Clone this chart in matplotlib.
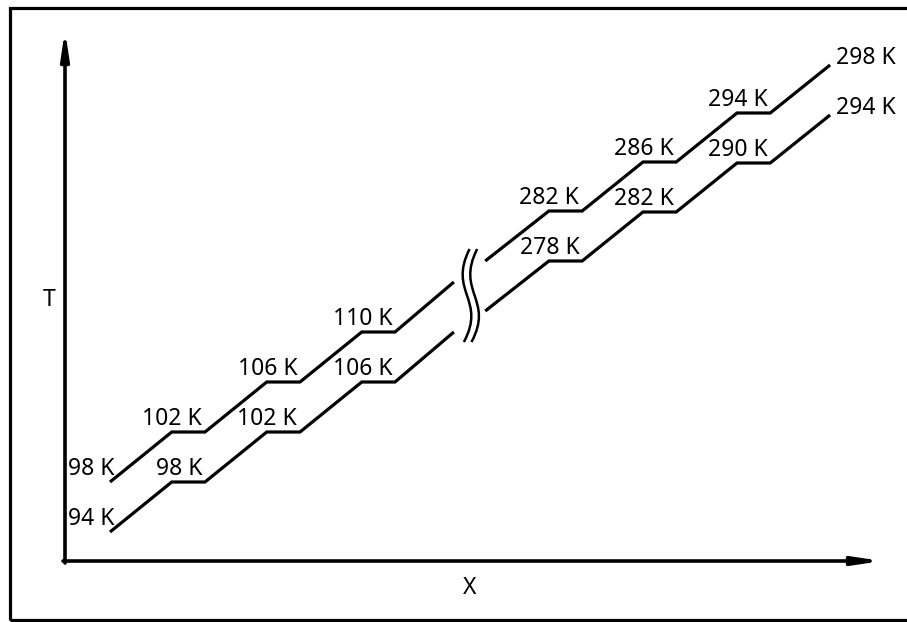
import matplotlib
matplotlib.use("Agg")
import matplotlib.pyplot as plt
from matplotlib.path import Path
from matplotlib.patches import PathPatch, Rectangle

plt.rcParams['font.family'] = ['Noto Sans', 'DejaVu Sans']

# staircase vertices: x in step cycles, y in temperature levels (schematic, no scale)
leftX = [0.0, 0.65, 1.0, 1.65, 2.0, 2.65, 3.0, 3.62]
rightX = [3.95, 4.62, 4.97, 5.61, 5.96, 6.6, 6.95, 7.58]

upperLeftLevel = [0, 1, 1, 2, 2, 3, 3, 4]
upperRightLevel = [4.42, 5.42, 5.42, 6.4, 6.4, 7.38, 7.38, 8.34]
lowerLeftLevel = [-1, 0, 0, 1, 1, 2, 2, 3]
lowerRightLevel = [3.42, 4.42, 4.42, 5.4, 5.4, 6.38, 6.38, 7.34]

upperStart = "98 K"
upperFlats = ["102 K", "106 K", "110 K", "282 K", "286 K", "294 K"]
upperEnd = "298 K"
lowerStart = "94 K"
lowerFlats = ["98 K", "102 K", "106 K", "278 K", "282 K", "290 K"]
lowerEnd = "294 K"

fontSize = 16.5
lineWidth = 2.3

fig = plt.figure(figsize=(9.07, 6.22), dpi=100)
ax = fig.add_axes([0, 0, 1, 1])
ax.set_xlim(-110 / 95, 797 / 95)
ax.set_ylim(-2.8, 9.64)
ax.axis('off')

# outer frame (right edge falls just outside the image)
fig.patches.append(Rectangle((10 / 907, 2 / 622), 905 / 907, 612.5 / 622,
                             transform=fig.transFigure, fill=False,
                             edgecolor='black', linewidth=2.3))

# axes with arrow heads
origin = (65 / 907, 1 - 561 / 622)
arrowProps = dict(arrowstyle='-|>,head_length=0.8,head_width=0.12',
                  mutation_scale=20, lw=2.6, color='black',
                  shrinkA=0, shrinkB=0)
ax.annotate('', xy=(65 / 907, 1 - 30 / 622), xytext=(65 / 907, 1 - 563 / 622),
            xycoords='axes fraction', textcoords='axes fraction', arrowprops=arrowProps)
ax.annotate('', xy=(882 / 907, origin[1]), xytext=(63 / 907, origin[1]),
            xycoords='axes fraction', textcoords='axes fraction', arrowprops=arrowProps)
ax.text(49.5 / 907, 1 - 300 / 622, "T", transform=ax.transAxes,
        ha='center', va='center', fontsize=fontSize)
ax.text(470 / 907, 1 - 588 / 622, "X", transform=ax.transAxes,
        ha='center', va='center', fontsize=fontSize)


def drawStaircase(xLeft, yLeft, xRight, yRight, startLabel, flatLabels, endLabel):
    for xs, ys in ((xLeft, yLeft), (xRight, yRight)):
        ax.plot(xs, ys, color='black', lw=lineWidth,
                solid_capstyle='butt', solid_joinstyle='miter')
    ax.annotate(startLabel, (xLeft[0], yLeft[0]), xytext=(3.6, 5),
                textcoords='offset points', ha='right', va='baseline', fontsize=fontSize)
    flatEnds = [(xLeft[i], yLeft[i]) for i in (2, 4, 6)] + \
               [(xRight[i], yRight[i]) for i in (2, 4, 6)]
    for label, (fx, fy) in zip(flatLabels, flatEnds):
        ax.annotate(label, (fx, fy), xytext=(-2, 5), textcoords='offset points',
                    ha='right', va='baseline', fontsize=fontSize)
    ax.annotate(endLabel, (xRight[-1], yRight[-1]), xytext=(4.3, 1),
                textcoords='offset points', ha='left', va='baseline', fontsize=fontSize)


drawStaircase(leftX, upperLeftLevel, rightX, upperRightLevel, upperStart, upperFlats, upperEnd)
drawStaircase(leftX, lowerLeftLevel, rightX, lowerRightLevel, lowerStart, lowerFlats, lowerEnd)

# break marks between the two temperature ranges
gapX = (leftX[-1] + rightX[0]) / 2
for dx in (-0.04, 0.04):
    cx = gapX + dx
    verts = [(cx + 0.04, 4.66), (cx - 0.19, 3.8), (cx + 0.22, 3.65), (cx - 0.02, 2.8)]
    path = Path(verts, [Path.MOVETO, Path.CURVE4, Path.CURVE4, Path.CURVE4])
    ax.add_patch(PathPatch(path, fill=False, edgecolor='black', lw=1.8))

fig.savefig("out.png", dpi=100, facecolor='white')
